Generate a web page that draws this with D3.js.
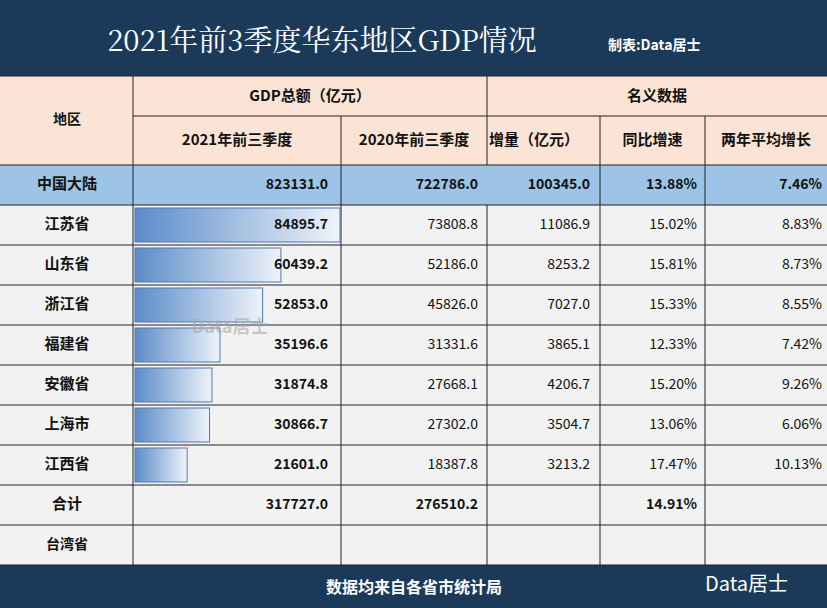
<!DOCTYPE html><html><head><meta charset="utf-8"><script src="https://cdn.jsdelivr.net/npm/d3@7"></script>
<style>body{margin:0}</style></head><body><svg id="c" width="827" height="608"></svg><script>
const regions=["江苏省","山东省","浙江省","福建省","安徽省","上海市","江西省"];
const gdp2021=[84895.7,60439.2,52853.0,35196.6,31874.8,30866.7,21601.0];
const gdp2020=[73808.8,52186.0,45826.0,31331.6,27668.1,27302.0,18387.8];
const incr=[11086.9,8253.2,7027.0,3865.1,4206.7,3504.7,3213.2];
const yoy=["15.02%","15.81%","15.33%","12.33%","15.20%","13.06%","17.47%"];
const avg2=["8.83%","8.73%","8.55%","7.42%","9.26%","6.06%","10.13%"];
const china=["中国大陆","823131.0","722786.0","100345.0","13.88%","7.46%"];
const total=["合计","317727.0","276510.2","","14.91%",""];
const svg=d3.select("#c"),F="'Noto Sans CJK SC',sans-serif";
const cols=[0,133,341,487,600,705,827];
const navy="#1b3a5a";
const defs=svg.append("defs");
const g=defs.append("linearGradient").attr("id","bg");
g.append("stop").attr("offset","0").attr("stop-color","#5b8cc8");
g.append("stop").attr("offset","1").attr("stop-color","#eef3fa");
svg.append("rect").attr("width",827).attr("height",608).attr("fill","#f2f2f2");
svg.append("rect").attr("width",827).attr("height",76).attr("fill",navy);
svg.append("rect").attr("y",565).attr("width",827).attr("height",43).attr("fill",navy);
svg.append("text").attr("x",322).attr("y",51).attr("text-anchor","middle").attr("fill","#fff").attr("font-size",29).attr("font-family","'Noto Serif CJK SC','Noto Sans CJK SC',serif").text("2021年前3季度华东地区GDP情况");
svg.append("text").attr("x",608).attr("y",50).attr("fill","#fff").attr("font-size",14).attr("font-weight","bold").attr("font-family",F).text("制表:Data居士");
svg.append("text").attr("x",414).attr("y",593).attr("text-anchor","middle").attr("fill","#fff").attr("font-size",16).attr("font-weight","bold").attr("font-family",F).text("数据均来自各省市统计局");
svg.append("text").attr("x",705).attr("y",591).attr("fill","#fff").attr("font-size",20).attr("font-family",F).text("Data居士");
svg.append("rect").attr("y",76).attr("width",827).attr("height",89).attr("fill","#fbe4d5");
svg.append("rect").attr("y",165).attr("width",827).attr("height",40).attr("fill","#9dc3e6");
const line=(x1,y1,x2,y2)=>svg.append("line").attr("x1",x1).attr("y1",y1).attr("x2",x2).attr("y2",y2).attr("stroke","#222").attr("stroke-width",1);
const txt=(x,y,s,o={})=>svg.append("text").attr("x",x).attr("y",y).attr("text-anchor",o.a||"middle").attr("font-size",o.fs||14).attr("font-weight",o.w||"bold").attr("fill","#111").attr("font-family",F).attr("dominant-baseline","middle").text(s);
txt(67,120,"地区");txt(310,97,"GDP总额（亿元）",{fs:15});txt(657,97,"名义数据",{fs:15});
["2021年前三季度","2020年前三季度","增量（亿元）","同比增速","两年平均增长"].forEach((s,i)=>txt(i==2?cols[i+1]+47:(cols[i+1]+cols[i+2])/2,141,s,{fs:15}));
line(0,76,827,76);line(133,116,827,116);line(487,76,487,165);line(133,76,133,565);
[341,600,705].forEach(x=>line(x,116,x,565));line(487,205,487,565);
for(let y=165;y<=565;y+=40)line(0,y,827,y);
const x=d3.scaleLinear().domain([0,d3.max(gdp2021)]).range([0,205]);
const y=d3.scaleBand().domain(regions).range([205,485]);
svg.selectAll(".bar").data(regions).join("rect").attr("x",135).attr("y",d=>y(d)+3).attr("height",y.bandwidth()-6).attr("width",(d,i)=>x(gdp2021[i])).attr("fill","url(#bg)").attr("stroke","#4a7ab8");
svg.append("text").attr("x",230).attr("y",333).attr("text-anchor","middle").attr("font-size",18).attr("font-weight","bold").attr("fill","#aaa").attr("opacity",0.6).attr("font-family",F).text("Data居士");
const right=[328,478,590,697,822];
function row(cy,vals,bold){txt(67,cy,vals[0],{fs:15});vals.slice(1).forEach((v,i)=>txt(right[i],cy,v,{a:"end",w:(bold||i==0)?"bold":"normal"}));}
row(185,china,true);
regions.forEach((r,i)=>row(y(r)+20,[r,gdp2021[i].toFixed(1),gdp2020[i].toFixed(1),incr[i].toFixed(1),yoy[i],avg2[i]],false));
row(505,total,true);
txt(67,545,"台湾省");
</script></body></html>
